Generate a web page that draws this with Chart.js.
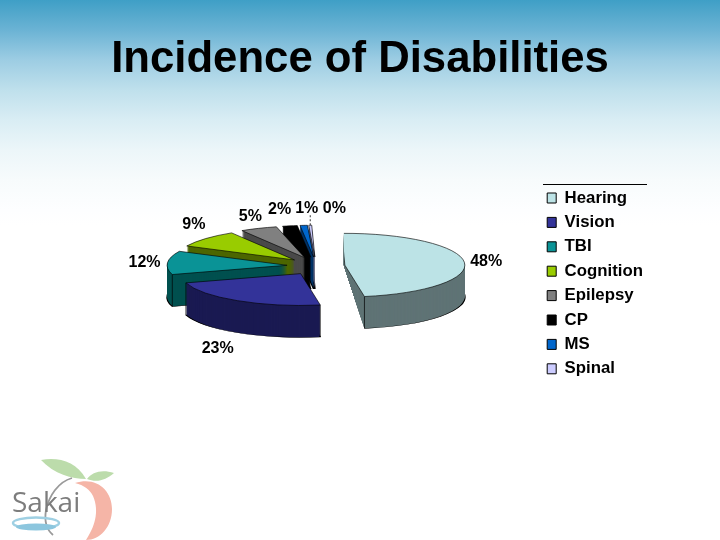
<!DOCTYPE html>
<html>
<head>
<meta charset="utf-8">
<title>Incidence of Disabilities</title>
<script src="https://cdn.jsdelivr.net/npm/chart.js@4"></script>
<style>
  html, body { margin: 0; padding: 0; width: 720px; height: 540px; overflow: hidden; background: #fff; }
  #slide { position: relative; width: 720px; height: 540px;
    background: linear-gradient(to bottom, #3f9fc6 0, #6bb3d4 30px, #9dcde3 60px, #bfe0ec 90px, #d9edf4 120px, #ecf6f9 150px, #f7fbfc 180px, #fdfeff 210px, #fff 225px, #fff 100%); }
  canvas { position: absolute; left: 0; top: 0; }
  #logo { position: absolute; left: 0; top: 450px; }
</style>
</head>
<body>
<div id="slide">
  <canvas id="pieChart" width="720" height="540"></canvas>
  <svg id="logo" width="130" height="90" viewBox="0 0 130 90">
    <path d="M41 10 C58 7 76 11 86 29 C72 29 54 24 41 10 Z" fill="#bcdcab"/>
    <path d="M87 29 C92 22 102 19 114 23 C106 30 97 33 87 29 Z" fill="#bcdcab"/>
    <path d="M75 33 C96 26 112 40 112 59 C112 77 100 90 86 90 C94 78 100 62 93 46 C90 40 84 35 75 33 Z" fill="#f5b5a7"/>
    <path d="M72 28 C58 32 49 46 46 60 C44 72 47 80 53 85" fill="none" stroke="#9a9a9a" stroke-width="1.8"/>
    <ellipse cx="36" cy="73" rx="23" ry="5.5" fill="none" stroke="#9fd0e3" stroke-width="2.5"/>
    <ellipse cx="36" cy="77" rx="20" ry="3.5" fill="#8cc6de"/>
    <text x="12" y="62" font-family="'Open Sans', sans-serif" font-size="28" fill="#7d7d7d">Sakai</text>
  </svg>
</div>
<script>
// ── Data ─────────────────────────────────────────
const categories = ['Hearing', 'Vision', 'TBI', 'Cognition', 'Epilepsy', 'CP', 'MS', 'Spinal'];
const percents = [48, 23, 12, 9, 5, 2, 1, 0.4];

// ── Styles ───────────────────────────────────────
const topColors = ['#bce3e6', '#333399', '#0a9396', '#99cc00', '#808080', '#000000', '#0066cc', '#ccccff'];
const sideColors = ['#5f7375', '#1a1a52', '#00504f', '#4d6600', '#4a4a4a', '#000000', '#003366', '#66667f'];
const paintOrder = [7, 6, 5, 4, 3, 2, 1, 0];
const labelNudges = [[-2, 0], [-7, 43], [1, 0], [6, -10], [1, -6], [-6, -10], [5, -10], [25, -10]];

const piePlace = { x: 316, y: 266, flatten: 0.265, depth: 32, explode: 29, explodeFlatten: 0.31 };
const labelGap = 24;

function midAngle(el) {
  return (el.startAngle + el.endAngle) / 2;
}

function explodeShift(el) {
  const mid = midAngle(el);
  return {
    x: Math.cos(mid) * piePlace.explode,
    y: Math.sin(mid) * piePlace.explode * piePlace.explodeFlatten,
  };
}

function setPieTransform(ctx, el, drop) {
  const shift = explodeShift(el);
  ctx.translate(piePlace.x + shift.x, piePlace.y + shift.y + drop);
  ctx.scale(1, piePlace.flatten);
  ctx.translate(-el.x, -el.y);
}

// where an arc point lands on the page, explosion included
function pagePoint(el, angle, radius) {
  const shift = explodeShift(el);
  return {
    x: piePlace.x + shift.x + Math.cos(angle) * radius,
    y: piePlace.y + shift.y + Math.sin(angle) * radius * piePlace.flatten,
  };
}

// Hearing is cut off on its inner side in the original slide
function clipHearing(ctx, el) {
  const apex = pagePoint(el, el.startAngle, 0);
  const end = pagePoint(el, el.endAngle, el.outerRadius);
  const cutX = apex.x - 1;
  ctx.beginPath();
  ctx.moveTo(cutX, 0);
  ctx.lineTo(720, 0);
  ctx.lineTo(720, 540);
  ctx.lineTo(end.x, 540);
  ctx.lineTo(end.x, end.y + piePlace.depth);
  ctx.lineTo(cutX, apex.y);
  ctx.closePath();
  ctx.clip();
}

const pie3d = {
  id: 'pie3d',
  afterLayout(chart) {
    const legend = chart.legend;
    const w = legend.width, h = legend.height;
    legend.left = 547.2 - legend.options.labels.padding;
    legend.right = legend.left + w;
    legend.top = 198 - legend.options.labels.padding - legend.options.labels.font.size / 2;
    legend.bottom = legend.top + h;
  },
  beforeDatasetDraw(chart, args) {
    const ctx = chart.ctx;
    const arcs = chart.getDatasetMeta(args.index).data;

    paintOrder.forEach((i) => {
      const el = arcs[i];
      ctx.save();
      if (i === 0) clipHearing(ctx, el);

      // side wall: the same arc stacked downwards
      const side = Object.create(el);
      side.options = { ...el.options, backgroundColor: sideColors[i], borderWidth: 0 };
      for (let d = piePlace.depth; d > 0; d--) {
        ctx.save();
        setPieTransform(ctx, el, d);
        if (d === piePlace.depth) {
          side.options.borderWidth = 1.6;
          side.options.borderColor = '#000';
        } else {
          side.options.borderWidth = 0;
        }
        side.draw(ctx);
        ctx.restore();
      }

      // vertical edges on the front half
      [el.startAngle, el.endAngle].forEach((a) => {
        if (Math.sin(a) <= 0) return;
        const p = pagePoint(el, a, el.outerRadius);
        ctx.beginPath();
        ctx.moveTo(p.x, p.y);
        ctx.lineTo(p.x, p.y + piePlace.depth);
        ctx.lineWidth = 0.7;
        ctx.strokeStyle = '#000';
        ctx.stroke();
      });

      ctx.save();
      setPieTransform(ctx, el, 0);
      el.draw(ctx);
      ctx.restore();
      ctx.restore();
    });

    // percent labels
    ctx.save();
    ctx.font = 'bold 16px "Liberation Sans", Arial, sans-serif';
    ctx.fillStyle = '#000';
    ctx.textAlign = 'center';
    ctx.textBaseline = 'middle';
    arcs.forEach((el, i) => {
      const p = pagePoint(el, midAngle(el), el.outerRadius + labelGap);
      ctx.fillText(Math.round(percents[i]) + '%', p.x + labelNudges[i][0], p.y + labelNudges[i][1]);
    });

    // leader for the smallest slice
    const last = arcs[arcs.length - 1];
    const tip = pagePoint(last, midAngle(last), last.outerRadius);
    ctx.setLineDash([2, 2]);
    ctx.lineWidth = 0.8;
    ctx.strokeStyle = '#000';
    ctx.beginPath();
    ctx.moveTo(tip.x, tip.y);
    ctx.lineTo(tip.x, tip.y - 12);
    ctx.stroke();
    ctx.restore();
    return false;
  },
  afterDraw(chart) {
    // rule above the legend
    const ctx = chart.ctx;
    ctx.save();
    ctx.strokeStyle = '#000';
    ctx.lineWidth = 1;
    ctx.beginPath();
    ctx.moveTo(543, 184.5);
    ctx.lineTo(647, 184.5);
    ctx.stroke();
    ctx.restore();
  },
};

// ── Pie Chart: Incidence of disabilities ─────────
new Chart(document.getElementById('pieChart'), {
  type: 'pie',
  data: {
    labels: categories,
    datasets: [
      {
        data: percents,
        backgroundColor: topColors,
        borderColor: '#000',
        borderWidth: 1,
      },
    ],
  },
  options: {
    responsive: false,
    animation: false,
    rotation: -1.5,
    radius: 120,
    plugins: {
      legend: {
        position: 'right',
        align: 'start',
        labels: {
          boxWidth: 9,
          boxHeight: 10,
          padding: 7.6,
          color: '#000',
          font: { family: "'Liberation Sans', Arial, sans-serif", size: 16.8, weight: 'bold' },
        },
      },
      title: {
        display: true,
        text: 'Incidence of Disabilities',
        color: '#000',
        padding: { top: 34, bottom: 0 },
        font: { family: "'Liberation Sans', Arial, sans-serif", size: 43.7, weight: 'bold' },
      },
      tooltip: { enabled: false },
    },
  },
  plugins: [pie3d],
});
</script>
</body>
</html>
